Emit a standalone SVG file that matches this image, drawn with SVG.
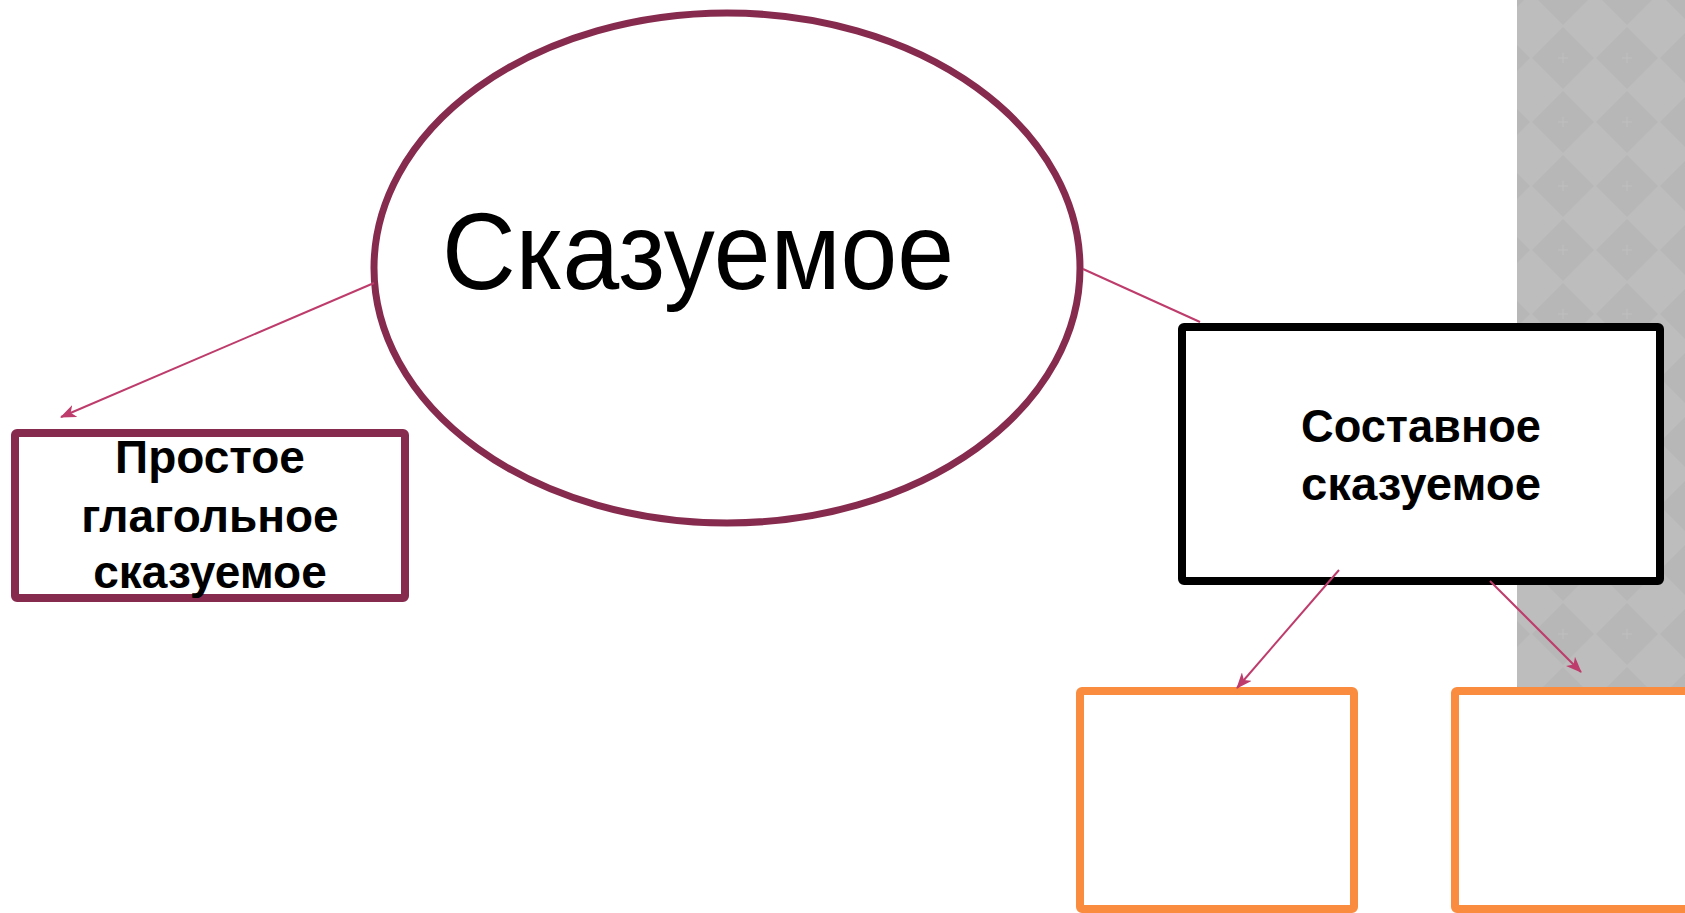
<svg xmlns="http://www.w3.org/2000/svg" width="1685" height="913" viewBox="0 0 1685 913">
<style>
.t{font-family:"Liberation Sans","DejaVu Sans",sans-serif;fill:#000;text-anchor:middle}
.b{font-weight:bold;font-size:46px}
.conn{stroke:#BE3C6B;stroke-width:2;fill:none}
</style>
<defs>
<pattern id="diam" x="1531" y="26" width="64" height="64" patternUnits="userSpaceOnUse">
<rect width="64" height="64" fill="#BDBDBD"/>
<polygon points="32,1 63,32 32,63 1,32" fill="#B7B7B7"/>
<path d="M27,32 H37 M32,27 V37" stroke="#C0C0C0" stroke-width="1"/>
</pattern>
<marker id="arr" viewBox="0 0 16 13" refX="15" refY="6.5" markerWidth="16" markerHeight="13" markerUnits="userSpaceOnUse" orient="auto">
<path d="M0,0 L16,6.5 L0,13 L4.5,6.5 Z" fill="#BE3C6B"/>
</marker>
</defs>
<rect width="1685" height="913" fill="#fff"/>
<rect x="1517" y="0" width="168" height="913" fill="url(#diam)"/>
<g id="node-main">
<ellipse cx="727" cy="268" rx="353" ry="255" fill="#fff" stroke="#872B4E" stroke-width="7"/>
<text class="t" x="698" y="289" font-size="110" textLength="512" lengthAdjust="spacingAndGlyphs">Сказуемое</text>
</g>
<g id="node-simple">
<rect x="15" y="433" width="390" height="165" rx="2" fill="#fff" stroke="#872B4E" stroke-width="8"/>
<text class="t b" x="210" y="473">Простое</text>
<text class="t b" x="210" y="532">глагольное</text>
<text class="t b" x="210" y="588">сказуемое</text>
</g>
<g id="node-compound">
<rect x="1182" y="327" width="478" height="254" rx="2" fill="#fff" stroke="#000" stroke-width="8"/>
<text class="t" x="1421" y="442" font-size="47" font-weight="bold" textLength="240" lengthAdjust="spacingAndGlyphs">Составное</text>
<text class="t" x="1421" y="500" font-size="47" font-weight="bold" textLength="240" lengthAdjust="spacingAndGlyphs">сказуемое</text>
</g>
<g id="node-empty1">
<rect x="1080" y="691" width="274" height="218" rx="2" fill="#fff" stroke="#F98C3F" stroke-width="8"/>
</g>
<g id="node-empty2">
<rect x="1455" y="691" width="240" height="218" rx="2" fill="#fff" stroke="#F98C3F" stroke-width="8"/>
</g>
<g id="connectors">
<line class="conn" x1="374" y1="283" x2="61" y2="417" marker-end="url(#arr)"/>
<line class="conn" x1="1083" y1="269" x2="1200" y2="322"/>
<line class="conn" x1="1339" y1="570" x2="1237" y2="688" marker-end="url(#arr)"/>
<line class="conn" x1="1490" y1="581" x2="1581" y2="672" marker-end="url(#arr)"/>
</g>
</svg>
